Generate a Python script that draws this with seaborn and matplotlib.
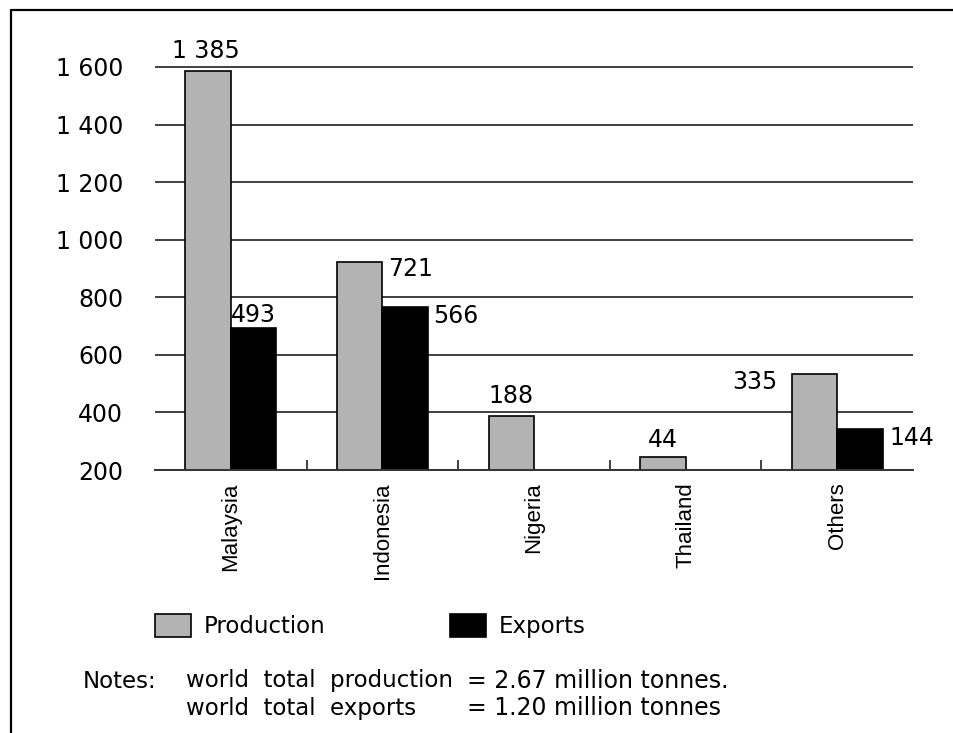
import numpy as np
import pandas as pd
import matplotlib
matplotlib.use("Agg")
import matplotlib.pyplot as plt
import matplotlib.patches as mpatches
from matplotlib.lines import Line2D
import seaborn as sns

# ---------------- data ----------------
countries = ["Malaysia", "Indonesia", "Nigeria", "Thailand", "Others"]
series_names = ["Production", "Exports"]
production = [1385, 721, 188, 44, 335]
exports = [493, 566, np.nan, np.nan, 144]
production_labels = ["1 385", "721", "188", "44", "335"]
exports_labels = ["493", "566", "", "", "144"]
y_ticks = [200, 400, 600, 800, 1000, 1200, 1400, 1600]
y_tick_labels = ["200", "400", "600", "800", "1 000", "1 200", "1 400", "1 600"]
axis_base = 200  # the chart's bars rise from a 200 baseline
notes_title = "Notes:"
notes_left = ["world  total  production", "world  total  exports"]
notes_right = ["= 2.67 million tonnes.", "= 1.20 million tonnes"]

# ---------------- style ----------------
sns.set_theme(style="white")
plt.rcParams["font.family"] = ["DejaVu Sans"]
plt.rcParams["text.color"] = "black"

W, H = 954, 733
fig = plt.figure(figsize=(W / 100, H / 100), dpi=100)
ax_left, ax_right, ax_bottom_px, ax_top_px = 155, 913, 470, 38.2
ax = fig.add_axes([ax_left / W, 1 - ax_bottom_px / H,
                   (ax_right - ax_left) / W, (ax_bottom_px - ax_top_px) / H])

rows = []
for c, p, e, pl, el in zip(countries, production, exports, production_labels, exports_labels):
    rows.append({"country": c, "series": "Production", "value": p, "label": pl})
    rows.append({"country": c, "series": "Exports", "value": e, "label": el})
df = pd.DataFrame(rows).dropna(subset=["value"])
df["height"] = df["value"] + axis_base

colors = {"Production": "#b3b3b3", "Exports": "#000000"}
sns.barplot(data=df, x="country", y="height", hue="series", order=countries,
            hue_order=series_names, palette=colors, width=0.6, dodge=True,
            edgecolor="black", linewidth=1.2, errorbar=None, legend=False, ax=ax)

ax.set_xlim(-0.5, len(countries) - 0.5)
ax.set_ylim(200, 1700)
ax.set_yticks(y_ticks)
ax.set_yticklabels(y_tick_labels)
ax.set_xlabel("")
ax.set_ylabel("")
ax.grid(axis="y", color="#404040", linewidth=1.4)
ax.grid(axis="x", visible=False)
ax.set_axisbelow(True)
for s in ["left", "top", "right"]:
    ax.spines[s].set_visible(False)
ax.spines["bottom"].set_color("#333333")
ax.spines["bottom"].set_linewidth(1.4)

ax.tick_params(axis="y", length=0, pad=23, labelsize=17, labelcolor="black")
ax.tick_params(axis="x", which="major", length=0, pad=9, labelsize=16, labelcolor="black")
ax.set_xticks([0.5, 1.5, 2.5, 3.5], minor=True)
ax.tick_params(axis="x", which="minor", bottom=True, direction="in", length=7.2,
               width=1.3, color="#333333")
plt.setp(ax.get_xticklabels(), rotation=90, va="top", ha="center",
         family=["Liberation Sans", "DejaVu Sans"])

# ---------------- value labels ----------------
# placement: (anchor on bar, dx px, dy px, ha)
placement = {
    ("Malaysia", "Production"): ("center", -2, 13, "center"),
    ("Malaysia", "Exports"): ("center", 0, 6, "center"),
    ("Indonesia", "Production"): ("right", 6, -14, "left"),
    ("Indonesia", "Exports"): ("right", 5, -16, "left"),
    ("Nigeria", "Production"): ("center", 0, 13, "center"),
    ("Thailand", "Production"): ("center", 0, 10, "center"),
    ("Others", "Production"): ("left", -14, -15, "right"),
    ("Others", "Exports"): ("right", 7, -16, "left"),
}
label_lookup = {(r.country, r.series): r.label for r in df.itertuples()}
for series, container in zip(series_names, ax.containers):
    for bar in container:
        xc = bar.get_x() + bar.get_width() / 2
        idx = int(round(xc))
        key = (countries[idx], series)
        if key not in label_lookup:
            continue
        anchor, dx, dy, ha = placement[key]
        if anchor == "center":
            x = xc
        elif anchor == "right":
            x = bar.get_x() + bar.get_width()
        else:
            x = bar.get_x()
        y = bar.get_y() + bar.get_height()
        ax.annotate(label_lookup[key], xy=(x, y), xytext=(dx * 0.72, dy * 0.72),
                    textcoords="offset points", ha=ha, va="baseline",
                    fontsize=17, color="black", annotation_clip=False)

# ---------------- legend ----------------
handles = [mpatches.Patch(facecolor=colors[s], edgecolor="black", linewidth=1.2)
           for s in series_names]
leg = fig.legend(handles, series_names, loc="center left",
                 bbox_to_anchor=(155 / W, 1 - 626 / H), ncol=2, frameon=False,
                 handlelength=1.57, handleheight=1.14, handletextpad=0.57,
                 columnspacing=5.4, borderpad=0, borderaxespad=0, fontsize=16.5)
for t in leg.get_texts():
    t.set_color("black")

# ---------------- notes ----------------
fig.text(83 / W, 1 - 681 / H, notes_title, fontsize=16.5, va="center", ha="left",
         color="black")
for i, (l, r) in enumerate(zip(notes_left, notes_right)):
    yy = 1 - (681 + 27 * i) / H
    fig.text(186 / W, yy, l, fontsize=16.5, va="center", ha="left", color="black")
    fig.text(467 / W, yy, r, fontsize=17, va="center", ha="left", color="black")

# ---------------- frame ----------------
fig.add_artist(Line2D([11 / W, 1], [1 - 10 / H, 1 - 10 / H], transform=fig.transFigure,
                      color="black", linewidth=1.6))
fig.add_artist(Line2D([11 / W, 11 / W], [0, 1 - 10 / H], transform=fig.transFigure,
                      color="black", linewidth=1.6))

fig.savefig("out.png", dpi=100, facecolor="white")
